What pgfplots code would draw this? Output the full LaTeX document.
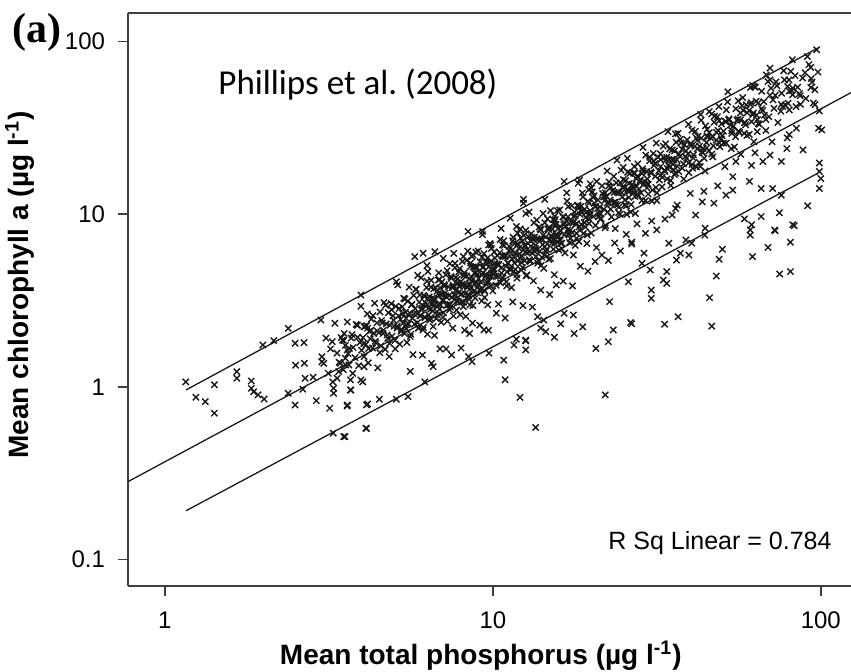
\documentclass[border=0pt]{standalone}
\usepackage{pgfplots}
\pgfplotsset{compat=1.18}
\usepackage{fontspec}
\setmainfont{Liberation Sans}
\newfontfamily\serifb{Liberation Serif}
\newfontfamily\calibri{Carlito}
\begin{document}
\begin{tikzpicture}
\useasboundingbox (-64pt,-43pt) rectangle (361.5pt,293pt);
\begin{axis}[
 at={(0,0)}, anchor=south west, scale only axis, width=361.5pt, height=286.5pt,
 xmode=log, ymode=log, xmin=0.772, xmax=123.6, ymin=0.0704, ymax=146.4,
 axis x line*=box, axis y line*=left,
 axis line style={-, black!75, line width=0.9pt},
 tick pos=left, tick align=outside, major tick length=5pt,
 tick style={black!75, line width=0.8pt},
 xtick={1,10,100}, xticklabels={1,10,100},
 ytick={0.1,1,10,100}, yticklabels={0.1,1,10,100},
 xminorticks=false, yminorticks=false,
 ticklabel style={font=\fontsize{12}{14}\selectfont},
 xticklabel style={yshift=-4.5pt},
 yticklabel style={xshift=-3pt},
 clip=false,
]
\addplot[black!90, line width=0.65pt] coordinates {(0.772,0.283) (123.6,50.6)};
\addplot[black!90, line width=0.65pt] coordinates {(1.16,0.961) (98,91.8)};
\addplot[black!90, line width=0.65pt] coordinates {(1.16,0.192) (98,17.3)};
% periphery points
\addplot[only marks, mark=x, mark size=2.2pt, mark options={line width=0.7pt, black!90}] coordinates {
(1.158,1.07) (1.415,1.03) (1.243,0.872) (1.328,0.822) (1.415,0.705) (1.657,1.226) (1.657,1.123) (1.834,1.083) (1.834,0.983) (1.923,0.899) (2.008,0.852) (1.865,0.939) (1.99,1.75) (2.148,1.853) (2.377,2.186) (2.99,2.44) (2.495,1.79) (2.657,1.806) (2.505,1.335) (2.664,1.372) (2.676,1.123) (2.832,1.138) (2.377,0.92) (2.633,0.97) (2.495,0.787) (2.896,0.833) (3.18,0.752) (3.597,0.776) (3.26,0.54) (3.51,0.516) (4.12,0.576) (4.12,0.787) (3.01,1.497) (3.01,1.40) (3.24,1.83) (3.51,1.853) (3.597,1.637) (3.86,2.28) (4.05,2.23) (3.27,0.983) (3.27,0.92) (3.35,1.123) (3.68,0.96) (3.96,1.098) (4.05,1.31) (3.64,1.34) (3.43,1.372) (3.55,1.466) (3.39,1.226)
(5.78,5.69) (6.13,5.95) (6.66,6.07) (5.08,4.07) (6.34,4.66) (6.82,4.16) (11.9,7.76) (12.4,11.6) (12.6,10.1) (9.86,6.64) (10.7,6.64) (7.67,5.2) (8.13,5.69) (8.64,5.69) (7.06,5.56) (3.96,3.41) (3.87,2.28) (4.15,2.19) (3.48,1.87) (3.65,1.67) (3.56,1.34) (3.74,1.2) (4.01,1.07) (3.69,0.96) (3.6,0.787) (4.15,0.797) (4.51,0.849) (5.08,0.849) (5.51,0.879) (4.1,0.576) (3.54,0.516) (10.9,1.1) (12.1,0.871) (13.5,0.582) (12.6,1.85) (12.6,1.64) (10.8,1.43) (11.6,1.75) (9.73,1.57) (8.43,1.5) (8.64,1.4) (7.49,1.53) (6.58,1.31) (6.2,1.07) (13.7,2.55) (14.0,2.19) (22,0.9)
(22.7,3.12) (23.3,2.14) (26.3,2.36) (17.7,2.04) (18.8,2.23) (16.1,2.32) (15.4,1.94) (17.6,2.61) (22.5,1.83) (20.6,1.67) (12.6,1.87) (11.8,1.89) (9.4,2.14) (14.5,2.09) (14.3,2.44) (16.5,2.67) (12.4,12.2) (16.5,15.5) (18.4,15.8) (19.6,13.9) (8.4,7.95) (9.3,7.95) (9.7,6.64) (8.7,5.81)
(26.5,2.32) (33.4,2.31) (36.7,2.55) (46.5,2.25) (45.8,3.29) (48.0,4.39) (49.0,5.49) (50.1,6.27) (61.9,5.69) (69.0,6.43) (72.6,8.03) (74.9,4.51) (80.8,4.66) (80.8,6.89) (83.0,8.59) (60.9,8.12) (60.9,7.57) (30.4,3.64) (30.4,3.26) (33.9,3.98) (33.1,4.16) (33.9,4.66) (30.2,4.76) (25.9,4.07) (28.5,5.2) (26.5,6.72) (28.9,5.95) (37.3,5.95) (39.6,5.81) (36.3,5.43) (38.8,7.1) (40.4,6.8) (34.4,6.8) (31.6,8.12) (29.2,7.76) (44.3,7.57)
(97.1,89.6) (81.9,78.4) (93.2,70.9) (70.0,70.2) (68.2,64.1) (70.0,60.0) (79.2,55) (82.1,53.7) (80.1,51.7) (93.2,54.2) (95.9,52.6) (70.5,53.7) (62.6,55.0) (52.1,51.2) (64.4,44.1) (59.2,43.0) (76.6,42.0) (80.1,40.2) (86.7,43.3) (94.9,44.1) (45.7,39.3) (48.4,36.7) (67.3,37.5) (56.9,35.2) (51.4,34.4) (98.4,31.5) (100.6,30.8) (84.2,31.5) (80.1,28.9) (88.3,23.6) (78.8,24.0) (75.8,20.2) (70.0,22.0) (66.6,20.2) (61.5,19.2) (55.1,20.2) (53.9,16.5) (60.6,15.5) (65.8,14.1) (71.3,14.1) (75.8,12.9) (53.9,13.8) (51.4,12.9) (47.2,11.6) (43.5,11.8) (41.5,9.9) (36.1,10.8) (35.2,9.9) (99,19.8) (99,17.7) (100,16.1) (99,14.1) (91.2,11.2) (74.8,10.2) (82.1,8.7) (72.3,8.1) (65.8,9.7) (61.5,8.7) (58.5,9.4) (44.4,8.3) (62,55.7)
};
% dense core, estimated
\addplot[only marks, mark=x, mark size=2.2pt, mark options={line width=0.7pt, black!90}] coordinates {
(3.05,1.37) (3.1,1.92) (3.15,1.20) (3.2,1.66) (3.25,1.07) (3.3,2.34) (3.35,1.57) (3.4,1.39) (3.45,1.93) (3.5,1.26) (3.55,1.74) (3.6,2.38) (3.62,1.56) (3.68,1.10) (3.72,2.01) (3.75,1.69) (3.8,1.48) (3.83,2.30) (3.87,1.94) (3.9,1.33) (3.93,1.81) (3.96,2.93) (3.98,1.63) (3.7,1.92) (3.52,2.04)
(4.02,1.93) (4.05,1.50) (4.08,2.24) (4.1,1.76) (4.14,2.65) (4.17,1.38) (4.2,2.10) (4.23,1.90) (4.26,2.47) (4.3,1.68) (4.33,2.04) (4.36,3.05) (4.4,1.80) (4.43,2.35) (4.46,1.29) (4.5,2.07) (4.53,2.72) (4.56,1.73) (4.6,2.35) (4.63,2.04) (4.66,3.08) (4.7,1.65) (4.73,2.32) (4.76,2.00) (4.8,2.69) (4.83,1.50) (4.86,2.28) (4.9,3.04) (4.93,1.97) (4.96,2.58) (5.0,2.25) (5.03,1.86) (5.06,2.93) (5.1,2.19) (5.13,3.90) (5.16,2.58) (5.2,1.77) (5.23,2.46) (5.26,2.16) (5.29,2.91)
(5.32,2.34) (5.35,3.26) (5.38,2.04) (5.41,2.71) (5.44,2.50) (5.47,1.81) (5.5,3.14) (5.53,2.32) (5.56,3.78) (5.59,2.68) (5.62,2.02) (5.65,2.99) (5.68,2.50) (5.71,1.54) (5.74,3.39) (5.77,2.31) (5.8,2.84) (5.84,3.68) (5.88,2.65) (5.92,2.19) (5.96,3.10) (6.0,2.58) (6.04,4.29) (6.08,2.86) (6.12,2.14) (6.16,3.39) (6.2,2.54) (6.24,3.06) (6.28,3.77) (6.32,2.02) (6.36,2.86) (6.4,3.33) (6.44,2.51) (6.48,4.15) (6.52,3.00) (6.56,2.76) (6.6,3.70) (6.64,1.99) (6.68,3.21) (6.72,2.49) (6.76,3.58) (6.8,2.99) (6.84,4.58) (6.88,2.82) (6.92,3.46) (6.96,2.37) (7.0,4.06) (5.6,1.23) (6.1,1.53) (6.5,1.37) (5.9,4.43) (6.3,5.04) (6.9,1.66) (5.45,2.18) (6.55,3.08)
(7.03,3.16) (7.07,2.69) (7.11,3.91) (7.15,3.50) (7.19,4.46) (7.23,2.96) (7.27,2.40) (7.31,3.80) (7.35,3.38) (7.39,5.17) (7.43,2.90) (7.47,4.26) (7.51,3.30) (7.55,2.19) (7.59,3.80) (7.63,3.20) (7.67,4.91) (7.71,3.62) (7.75,2.79) (7.79,4.21) (7.83,3.13) (7.87,4.64) (7.91,3.56) (7.95,2.62) (7.99,4.07) (8.03,3.45) (8.07,5.33) (8.11,3.89) (8.15,3.10) (8.19,4.59) (8.23,3.46) (8.27,2.56) (8.31,4.40) (8.35,3.84) (8.39,6.12) (8.43,3.37) (8.47,4.24) (8.51,2.98) (8.55,5.22) (8.59,3.78) (8.63,4.14) (8.67,2.34) (8.71,4.96) (8.75,3.59) (8.79,4.57) (8.83,3.27) (8.87,6.03) (8.91,4.01) (8.95,4.92) (8.99,3.51) (7.2,1.66) (8.0,1.68) (8.5,2.04) (7.6,5.93) (8.2,2.13)
(9.05,4.25) (9.1,3.64) (9.15,5.31) (9.2,4.05) (9.25,3.15) (9.3,4.93) (9.35,4.58) (9.4,5.92) (9.45,3.59) (9.5,4.37) (9.55,5.35) (9.6,4.03) (9.65,2.99) (9.7,4.95) (9.75,4.39) (9.8,6.76) (9.85,3.84) (9.9,5.35) (9.95,4.78) (10.0,3.60) (10.1,6.06) (10.2,4.39) (10.3,5.15) (10.4,3.02) (10.5,5.99) (10.6,4.88) (10.7,4.28) (10.8,7.02) (10.9,5.67) (11.0,4.07) (11.1,5.22) (11.2,6.16) (11.3,4.86) (11.4,3.76) (11.5,7.02) (11.6,5.68) (11.7,4.80) (11.8,8.50) (11.9,5.36) (12.0,6.36) (9.12,2.28) (9.7,2.13) (10.25,2.67) (10.9,2.51) (11.5,3.11) (9.3,7.63) (10.6,8.27) (11.3,9.49) (9.9,4.36) (10.4,5.10) (10.75,5.70) (11.05,4.64) (11.45,5.50) (9.55,3.92) (10.15,5.58) (11.85,4.27) (9.0,4.50) (10.55,4.01) (11.65,6.76) (10.05,4.72)
(12.1,5.57) (12.2,4.76) (12.3,7.01) (12.4,6.20) (12.5,5.38) (12.6,8.06) (12.7,4.45) (12.8,6.78) (12.9,6.06) (13.0,5.33) (13.1,7.73) (13.2,5.94) (13.3,4.12) (13.4,7.37) (13.5,6.62) (13.6,9.25) (13.7,5.21) (13.8,7.18) (13.9,6.12) (14.0,8.12) (14.1,5.64) (14.2,6.67) (14.3,4.86) (14.4,8.93) (14.5,7.40) (14.6,6.28) (14.7,8.23) (14.8,5.48) (14.9,7.15) (15.0,10.5) (15.1,6.80) (15.2,8.21) (15.3,6.27) (15.4,4.47) (15.5,9.30) (15.6,7.64) (15.7,6.91) (15.8,8.22) (15.9,6.20) (16.0,10.6) (12.35,2.96) (13.2,2.90) (14.0,3.64) (14.9,3.43) (15.6,3.90) (12.9,10.3) (14.4,12.2) (13.05,6.53) (13.55,5.69) (14.25,7.55) (14.65,6.74) (15.35,8.75) (12.55,6.53) (13.85,8.45) (15.85,7.45) (12.15,7.29) (13.35,6.14) (14.05,5.06) (15.05,7.53) (15.45,9.73)
(16.1,8.05) (16.2,6.80) (16.35,9.65) (16.5,7.59) (16.6,5.98) (16.75,9.21) (16.9,8.11) (17.0,11.1) (17.15,6.86) (17.3,9.00) (17.45,7.85) (17.6,5.81) (17.75,10.3) (17.9,8.77) (18.0,7.74) (18.15,11.3) (18.3,6.95) (18.45,9.96) (18.6,8.74) (18.75,13.3) (18.9,7.75) (19.05,10.7) (19.2,9.60) (19.35,6.77) (19.5,11.9) (19.65,8.84) (19.8,10.5) (19.95,7.78) (20.1,13.5) (20.25,9.72) (20.4,11.6) (20.55,8.63) (20.7,6.42) (20.85,10.8) (21.0,9.66) (16.4,4.10) (17.5,3.85) (18.5,5.00) (19.5,4.68) (20.5,5.33) (16.8,13.3) (18.2,15.1) (19.8,15.0) (16.45,8.72) (17.2,8.08) (17.85,9.82) (18.55,11.1) (19.15,8.43) (19.75,9.88) (20.35,12.8) (16.05,7.06) (16.95,9.66) (17.65,9.00) (18.35,8.44) (20.9,12.1)
(21.2,11.0) (21.4,9.42) (21.6,13.2) (21.8,10.7) (22.0,8.36) (22.2,12.7) (22.4,10.3) (22.6,15.4) (22.8,12.1) (23.0,9.66) (23.2,13.7) (23.4,11.7) (23.6,8.26) (23.8,15.2) (24.0,11.3) (24.2,13.3) (24.4,10.0) (24.6,18.0) (24.8,12.6) (25.0,14.5) (25.2,11.3) (25.4,15.7) (25.6,9.98) (25.8,13.9) (26.0,12.5) (26.2,17.3) (26.4,11.4) (26.6,14.9) (26.8,13.4) (27.0,18.9) (27.2,10.1) (27.4,14.5) (27.6,16.6) (27.8,12.8) (21.5,5.81) (22.5,5.40) (23.5,6.82) (24.5,6.13) (25.5,7.65) (26.5,6.89) (27.5,8.80) (22.3,17.8) (23.9,20.6) (25.7,21.1) (21.9,12.0) (22.9,14.4) (23.7,11.4) (24.9,14.2) (26.1,13.6) (27.1,17.3)
(28.0,15.4) (28.3,13.3) (28.6,18.3) (28.9,15.0) (29.2,12.0) (29.5,17.7) (29.8,14.9) (30.1,21.4) (30.4,17.3) (30.7,13.8) (31.0,19.2) (31.3,16.6) (31.6,12.0) (31.9,21.4) (32.2,15.8) (32.5,18.9) (32.8,14.4) (33.1,24.8) (33.4,18.0) (33.7,20.6) (34.0,16.0) (34.3,19.2) (34.6,23.9) (34.9,14.7) (35.2,20.8) (35.5,18.1) (35.8,23.3) (36.1,17.3) (36.4,20.7) (36.7,29.4) (30.5,9.15) (33.5,9.38) (36.5,11.3) (28.7,24.4) (31.5,25.8) (34.2,30.1) (29.6,16.0) (30.9,20.4) (32.4,16.8) (33.9,21.4) (35.4,19.5) (36.2,26.1)
(37.2,21.6) (37.8,18.5) (38.4,25.3) (39.0,21.1) (39.6,17.4) (40.2,24.9) (40.8,21.2) (41.4,30.2) (42.0,23.9) (42.6,20.0) (43.2,27.6) (43.8,24.1) (44.4,17.8) (45.0,31.1) (45.6,23.3) (46.2,27.7) (46.8,21.5) (47.4,37.0) (48.0,26.9) (48.6,30.6) (49.2,24.6) (49.8,33.4) (40.0,13.2) (44.0,13.6) (48.5,14.6) (39.5,33.2) (43.0,37.8) (46.5,38.1) (38.8,23.3) (40.5,19.4) (41.8,27.6) (44.8,26.0) (47.0,24.9) (49.0,34.8) (37.5,25.9) (42.9,18.9) (45.3,28.1)
(50.5,30.3) (51.5,25.8) (52.5,35.7) (53.5,29.4) (54.5,24.5) (55.5,35.0) (56.5,29.9) (57.5,42.6) (58.5,33.9) (59.5,28.6) (60.5,39.9) (61.5,34.4) (62.5,26.3) (63.5,45.1) (64.5,33.5) (51.0,18.9) (57.0,22.2) (63.0,22.7) (52.0,44.7) (56.0,45.4) (61.0,54.3) (53.0,32.9) (55.0,28.1) (58.0,40.0) (59.0,33.0) (62.0,37.8) (64.0,30.1) (50.0,28.5)
(66,40.9) (68,35.4) (70,49.0) (72,41.0) (74,34.0) (76,50.2) (78,42.9) (80,60.0) (82,49.2) (84,42.0) (71,26.3) (79,27.7) (69,58.7) (73,58.4) (77,67.8) (81,67.2) (85,54.4)
(86,49.9) (88,61.6) (90,46.8) (92,73.6) (94,58.3) (96,43.2) (98,66.6) (99,39.6) (91,81.9)
};
% dense core, second estimated layer
\addplot[only marks, mark=x, mark size=2.2pt, mark options={line width=0.7pt, black!90}] coordinates {
(4.04,1.78) (4.12,2.27) (4.18,1.67) (4.25,2.13) (4.31,2.59) (4.38,1.84) (4.44,2.11) (4.52,1.58) (4.58,2.43) (4.64,2.13) (4.71,2.97) (4.78,1.91) (4.84,1.79) (4.91,2.80) (4.98,2.44) (5.04,1.66) (5.11,2.25) (5.18,2.85) (5.25,2.10) (5.31,2.66) (5.39,3.23) (5.46,2.29) (5.52,2.62) (5.6,1.96) (5.67,3.01) (5.75,2.65) (5.82,3.67) (5.89,2.36) (5.95,2.20) (5.99,3.41)
(6.03,2.59) (6.09,2.98) (6.14,2.21) (6.19,3.34) (6.25,2.94) (6.3,4.10) (6.37,2.61) (6.42,2.44) (6.47,3.78) (6.53,3.27) (6.58,2.24) (6.63,2.98) (6.7,3.75) (6.75,2.73) (6.81,3.47) (6.87,4.19) (6.93,2.98) (6.99,3.43) (7.05,2.54) (7.12,3.84) (7.18,3.37) (7.25,4.71) (7.32,3.00) (7.38,2.80) (7.45,4.36) (7.52,3.76) (7.58,2.58) (7.65,3.44) (7.72,4.32) (7.78,3.15) (7.85,4.00) (7.92,4.83) (7.98,3.43) (8.05,3.94) (8.12,2.92) (8.18,4.42) (8.25,3.88) (8.32,5.41) (8.4,3.44) (8.47,3.22) (8.55,5.00) (8.62,4.31) (8.7,2.96) (8.78,3.95) (8.86,4.96)
(9.02,6.13) (9.08,3.90) (9.18,3.67) (9.27,5.65) (9.36,4.96) (9.44,3.30) (9.53,4.48) (9.62,5.58) (9.71,4.08) (9.8,5.29) (9.9,6.34) (10.03,4.50) (10.13,5.15) (10.23,3.88) (10.33,5.77) (10.43,5.10) (10.53,7.14) (10.63,4.56) (10.73,4.28) (10.83,6.59) (10.93,5.78) (11.03,3.85) (11.13,5.22) (11.23,6.50) (11.33,4.75) (11.43,6.16) (11.53,7.36) (11.63,5.22) (11.73,5.97) (11.83,4.48) (11.93,6.66) (12.03,5.88) (12.13,8.23) (12.23,5.25) (12.33,4.92) (12.43,7.56) (12.53,6.63) (12.63,4.41) (12.73,5.97) (12.83,7.42) (12.93,5.42) (13.03,7.02)
(13.17,7.38) (13.33,8.93) (13.48,6.34) (13.63,7.22) (13.78,5.37) (13.93,8.22) (14.08,7.18) (14.23,10.1) (14.38,6.47) (14.53,6.10) (14.68,9.40) (14.83,8.16) (14.98,5.54) (15.13,7.41) (15.28,9.32) (15.43,6.79) (15.58,8.72) (15.73,10.5) (15.88,7.46) (16.03,8.50) (16.23,6.33) (16.43,9.69) (16.63,8.48) (16.83,11.9) (17.03,7.66) (17.23,7.24) (17.43,11.2) (17.63,9.70) (17.83,6.60) (18.03,8.83) (18.23,11.1) (18.43,8.11) (18.63,10.4) (18.83,12.6) (19.03,8.94) (19.23,10.2) (19.43,7.58) (19.63,11.6) (19.83,10.1) (19.98,14.2)
(20.22,12.5) (20.47,11.1) (20.72,15.5) (20.97,10.1) (21.27,9.36) (21.52,14.6) (21.77,12.6) (22.07,8.61) (22.32,11.6) (22.57,14.6) (22.87,10.7) (23.12,13.6) (23.37,16.6) (23.67,11.8) (23.92,13.4) (24.17,10.2) (24.47,15.2) (24.72,13.3) (24.97,18.7) (25.27,12.1) (25.52,11.2) (25.77,17.5) (26.07,15.1) (26.32,10.3) (26.57,13.8) (26.87,17.3) (27.12,12.7) (27.37,16.1) (27.67,19.6) (27.92,14.0) (28.17,15.8) (28.47,12.0) (28.72,17.8) (28.97,15.6) (29.27,22.0) (29.52,14.2) (29.77,13.1) (30.07,20.4) (30.32,17.6) (30.57,11.9)
(30.85,22.5) (31.25,19.7) (31.65,13.3) (32.05,17.9) (32.45,22.4) (32.85,16.4) (33.25,21.3) (33.65,25.6) (34.05,18.4) (34.45,20.7) (34.85,15.7) (35.25,23.6) (35.65,20.7) (36.05,29.2) (36.45,19.0) (36.85,17.7) (37.3,27.2) (37.75,23.8) (38.2,16.0) (38.65,21.6) (39.1,27.0) (39.55,19.8) (40.0,25.6) (40.45,30.7) (40.9,22.1) (41.35,24.8) (41.8,18.8) (42.25,28.3) (42.7,24.8) (43.15,35.0) (43.6,22.7) (44.05,21.1) (44.5,32.5) (44.95,28.3)
(45.7,29.7) (46.5,22.3) (47.3,34.1) (48.1,29.8) (48.9,42.1) (49.7,27.3) (50.6,25.8) (51.5,40.2) (52.4,35.1) (53.3,24.0) (54.2,32.5) (55.1,40.8) (56.0,30.2) (56.9,38.7) (57.8,47.4) (58.7,34.0) (59.6,38.7) (60.5,29.0) (61.4,44.2) (62.3,38.6) (63.2,54.4) (64.1,35.3) (65.0,33.2) (66.0,51.5) (67.0,44.9) (68.0,30.6)
(71.5,46.0) (73.5,55.5) (75.5,39.5) (77.5,60.0) (79.5,44.0) (81.5,52.0) (83.5,63.5) (86.5,48.5) (89.5,66.0) (93.5,61.0)
};
% dense core, third estimated layer
\addplot[only marks, mark=x, mark size=2.2pt, mark options={line width=0.7pt, black!90}] coordinates {
(6.06,2.79) (6.21,2.52) (6.34,3.27) (6.46,2.82) (6.61,3.23) (6.77,2.61) (6.9,3.75) (7.08,3.19) (7.22,3.32) (7.41,3.00) (7.56,3.89) (7.69,3.36) (7.88,3.85) (8.02,3.10) (8.16,4.43) (8.36,3.77) (8.53,3.92) (8.68,3.52) (8.84,4.55) (9.0,3.93) (9.22,4.50) (9.41,3.63) (9.58,5.20) (9.77,4.41) (9.93,4.57)
(10.08,4.84) (10.37,4.38) (10.66,5.74) (10.96,5.00) (11.27,5.74) (11.58,4.67) (11.9,6.74) (12.24,5.75) (12.58,6.04) (12.92,5.45) (13.28,7.14) (13.66,6.23) (14.04,7.15) (14.43,5.82) (14.84,8.40) (15.25,7.17) (15.68,7.53) (16.12,6.80) (16.57,8.91) (17.04,7.77) (17.52,8.92) (18.0,7.25) (18.5,10.5) (19.03,8.94) (19.56,9.39)
(20.6,11.1) (21.3,10.1) (22.0,13.3) (22.7,11.6) (23.45,13.4) (24.2,11.0) (25.0,15.9) (25.85,13.7) (26.7,14.4) (27.6,13.1) (28.5,17.2) (29.45,15.1) (30.4,17.4) (31.4,14.3) (32.45,20.7) (33.5,17.7) (34.6,18.7) (35.75,17.0) (36.95,22.4) (38.15,19.6) (39.4,22.5) (40.7,18.5) (42.05,26.8) (43.45,23.0) (44.9,24.2)
(46.9,28.1) (49.0,25.9) (51.2,34.4) (53.5,30.5) (55.9,35.6) (58.4,29.4) (61.0,43.2) (63.7,37.5) (66.5,39.9) (69.5,36.7) (72.6,48.8) (75.8,43.2)
};
\end{axis}
\node[rotate=90, font=\fontsize{14}{16}\selectfont\bfseries] at (-54pt,150.5pt) {Mean chlorophyll a (µg l\textsuperscript{-1})};
\node[font=\fontsize{14}{16}\selectfont\bfseries] at (176.4pt,-35pt) {Mean total phosphorus (µg l\textsuperscript{-1})};
\node[font=\fontsize{21}{24}\selectfont\serifb\bfseries] at (-45.5pt,276.75pt) {(a)};
\node[anchor=west, font=\fontsize{17.5}{20}\selectfont\calibri] at (41.7pt,250.5pt) {Phillips et al.\ (2008)};
\node[anchor=base east, font=\fontsize{12.5}{14}\selectfont] at (355.3pt,18pt) {R Sq Linear = 0.784};
\end{tikzpicture}
\end{document}
